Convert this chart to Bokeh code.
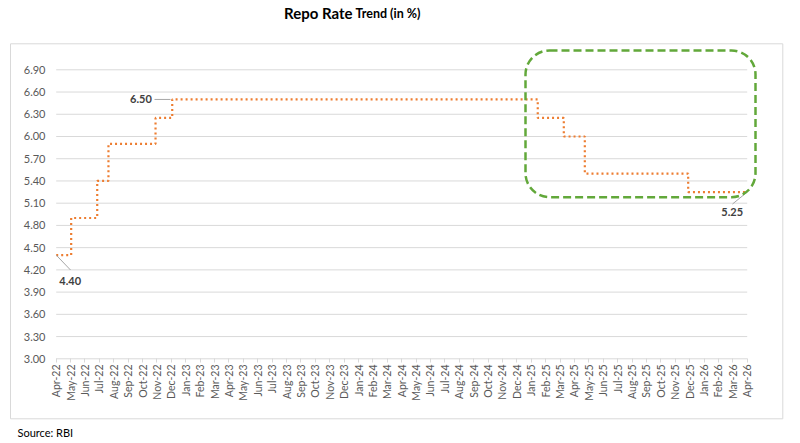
import math
from bokeh.plotting import figure
from bokeh.models import FixedTicker, Label, BoxAnnotation, Range1d
from bokeh.embed import file_html
from bokeh.resources import INLINE

# ---------------- data ----------------
month_labels = [
    "Apr-22", "May-22", "Jun-22", "Jul-22", "Aug-22", "Sep-22", "Oct-22", "Nov-22", "Dec-22",
    "Jan-23", "Feb-23", "Mar-23", "Apr-23", "May-23", "Jun-23", "Jul-23", "Aug-23", "Sep-23",
    "Oct-23", "Nov-23", "Dec-23", "Jan-24", "Feb-24", "Mar-24", "Apr-24", "May-24", "Jun-24",
    "Jul-24", "Aug-24", "Sep-24", "Oct-24", "Nov-24", "Dec-24", "Jan-25", "Feb-25", "Mar-25",
    "Apr-25", "May-25", "Jun-25", "Jul-25", "Aug-25", "Sep-25", "Oct-25", "Nov-25", "Dec-25",
    "Jan-26", "Feb-26", "Mar-26", "Apr-26",
]
# month position (0 = Apr-22) at which each rate takes effect
change_months = [0.0, 1.04, 2.85, 3.63, 6.90, 8.06, 33.45, 35.26, 36.72, 43.90]
rates = [4.40, 4.90, 5.40, 5.90, 6.25, 6.50, 6.25, 6.00, 5.50, 5.25]
end_month = 48
y_ticks = [3.00, 3.30, 3.60, 3.90, 4.20, 4.50, 4.80, 5.10, 5.40, 5.70, 6.00, 6.30, 6.60, 6.90]

# build step path from the data
xs, ys = [], []
for i, (m, r) in enumerate(zip(change_months, rates)):
    nxt = change_months[i + 1] if i + 1 < len(change_months) else end_month
    xs += [m, nxt]
    ys += [r, r]

# ---------------- layout helpers (canvas pixel <-> data) ----------------
W, H = 800, 443
X0_PX, X_STEP = 55.7, 14.396      # pixel of month 0, pixels per month
Y3_PX, Y_UNIT = 358.3, 74.103     # pixel of 3.00, pixels per 1.00


def px_x(px):
    return (px - X0_PX) / X_STEP


def px_y(py):
    return 3.0 + (Y3_PX - py) / Y_UNIT


FONT = "Lato"
GRID = "#d9d9d9"
TXT = "#595959"

p = figure(width=W, height=H, output_backend="svg", toolbar_location=None,
           x_range=Range1d(px_x(0), px_x(W)), y_range=Range1d(px_y(H), px_y(0)),
           min_border=0, min_border_left=0, min_border_right=0,
           min_border_top=0, min_border_bottom=0)
p.background_fill_color = "white"
p.border_fill_color = "white"
p.outline_line_color = None
p.xgrid.visible = False
p.ygrid.visible = False

# outer chart-area border
p.quad(left=px_x(10), right=px_x(782.3), bottom=px_y(418.3), top=px_y(43.3),
       fill_color=None, line_color=GRID, line_width=1)

# gridlines (incl. the 3.00 base line)
p.segment(x0=[0] * len(y_ticks), y0=y_ticks, x1=[end_month] * len(y_ticks), y1=y_ticks,
          line_color=GRID, line_width=1)

# x axis (sits at the canvas bottom, ticks/labels pulled up to the 3.00 line)
xa = p.xaxis[0]
xa.ticker = FixedTicker(ticks=list(range(len(month_labels))))
xa.major_label_overrides = {i: lab for i, lab in enumerate(month_labels)}
xa.major_label_orientation = math.pi / 2
xa.axis_line_color = None
xa.major_tick_line_color = GRID
xa.major_tick_in = int(round(H - Y3_PX))
xa.major_tick_out = -int(round(H - Y3_PX - 4))
xa.minor_tick_line_color = None
xa.major_label_standoff = -int(round(H - Y3_PX - 6))
xa.major_label_text_font = FONT
xa.major_label_text_font_size = "10.5px"
xa.major_label_text_color = TXT

# y axis (sits at the canvas left, labels pushed right)
ya = p.yaxis[0]
ya.ticker = FixedTicker(ticks=y_ticks)
ya.major_label_overrides = {t: f"{t:.2f}" for t in y_ticks}
ya.axis_line_color = None
ya.major_tick_line_color = None
ya.major_tick_in = 0
ya.major_tick_out = 0
ya.minor_tick_line_color = None
ya.major_label_standoff = -45
ya.major_label_text_font = FONT
ya.major_label_text_font_size = "11px"
ya.major_label_text_color = TXT

# repo rate line
p.line(xs, ys, line_color="#ED7D31", line_width=2.2, line_dash="2 3")

# data labels with leader lines
LEAD = "#a6a6a6"
LBL = dict(text_align="center", text_baseline="middle", text_font=FONT,
           text_font_size="11px", text_color="#404040", text_font_style="bold")
p.segment(x0=change_months[0], y0=rates[0], x1=px_x(70), y1=px_y(269.5), line_color=LEAD, line_width=1)
p.add_layout(Label(x=px_x(69.7), y=px_y(280), text=f"{rates[0]:.2f}", **LBL))
p.segment(x0=px_x(154), y0=rates[5], x1=px_x(170), y1=rates[5], line_color=LEAD, line_width=1)
p.add_layout(Label(x=px_x(140.4), y=rates[5], text=f"{rates[5]:.2f}", **LBL))
p.segment(x0=end_month, y0=rates[-1], x1=px_x(732), y1=px_y(203.5), line_color=LEAD, line_width=1)
p.add_layout(Label(x=px_x(731.7), y=px_y(211.7), text=f"{rates[-1]:.2f}", **LBL))

# green highlight box
p.add_layout(BoxAnnotation(left=px_x(525), right=px_x(755), bottom=px_y(196.7), top=px_y(50),
                           fill_alpha=0, line_color="#62A83A", line_alpha=1.0, line_width=2.5,
                           line_dash="8 4", border_radius=24, level="overlay"))

# title
p.add_layout(Label(x=px_x(352), y=px_y(12.5), text="Repo Rate",
                   text_align="right", text_baseline="alphabetic", text_font=FONT,
                   text_font_size="15px", text_font_style="bold", text_color="#000000"))
p.add_layout(Label(x=px_x(355), y=px_y(12.5), text="Trend (in %)",
                   text_align="left", text_baseline="alphabetic", text_font=FONT,
                   text_font_size="12.5px", text_font_style="bold", text_color="#000000"))

# source
p.add_layout(Label(x=px_x(17), y=px_y(432), text="Source: RBI",
                   text_align="left", text_baseline="middle", text_font=FONT,
                   text_font_size="11px", text_color="#000000"))

open("out.html", "w").write(file_html(p, INLINE))
